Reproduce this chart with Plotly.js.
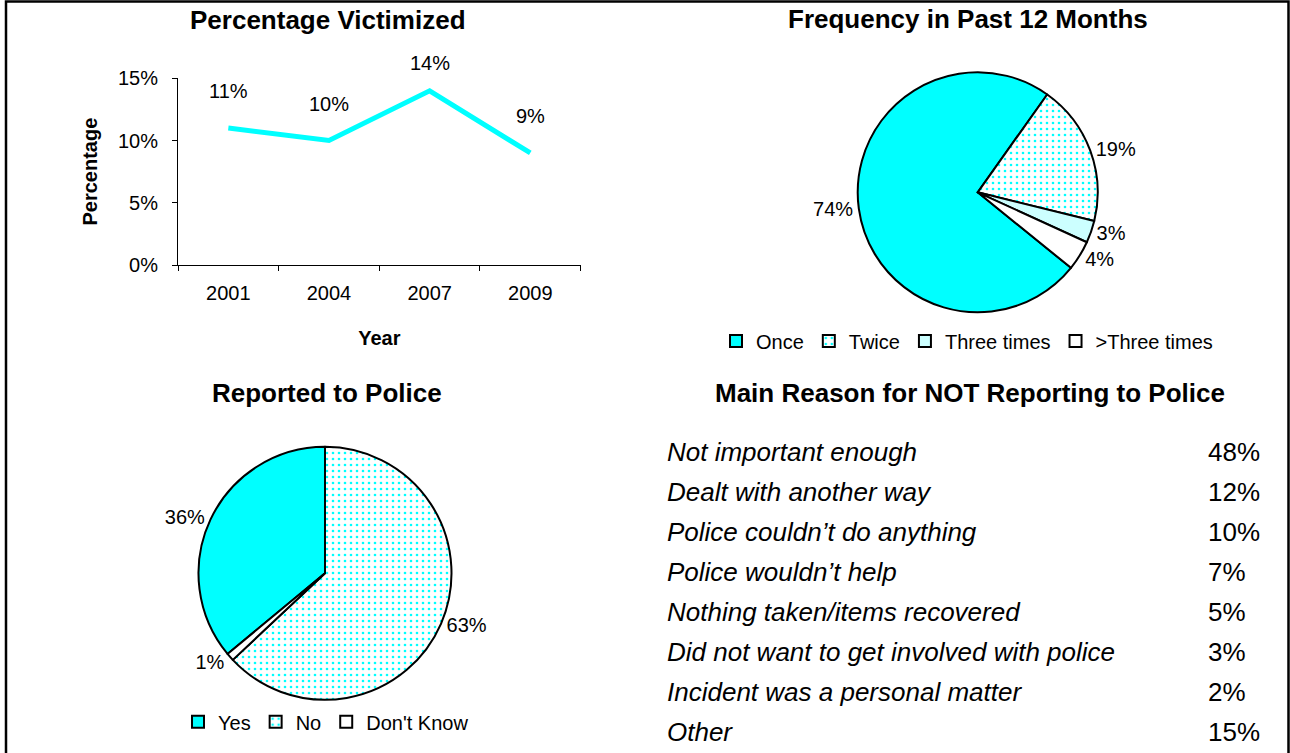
<!DOCTYPE html>
<html>
<head>
<meta charset="utf-8">
<script src="https://cdn.plot.ly/plotly-3.0.1.min.js"></script>
<style>
  html, body { margin: 0; padding: 0; background: #fff; }
  #chart { width: 1290px; height: 753px; }
</style>
</head>
<body>
<div id="chart"></div>
<script>
// ---- data ----
const years = ['2001', '2004', '2007', '2009'];
const victimizedPct = [11, 10, 14, 9];
const pctTicks = [0, 5, 10, 15];

const freqLabels = ['Once', 'Twice', 'Three times', '>Three times'];
const freqPct = [74, 19, 3, 4];

const reportedLabels = ['Yes', 'No', "Don't Know"];
const reportedPct = [36, 63, 1];

const reasonLabels = [
  'Not important enough',
  'Dealt with another way',
  'Police couldn\u2019t do anything',
  'Police wouldn\u2019t help',
  'Nothing taken/items recovered',
  'Did not want to get involved with police',
  'Incident was a personal matter',
  'Other'
];
const reasonPct = [48, 12, 10, 7, 5, 3, 2, 15];

const panelTitles = [
  'Percentage Victimized',
  'Frequency in Past 12 Months',
  'Reported to Police',
  'Main Reason for NOT Reporting to Police'
];

// ---- page geometry helpers (pixels -> paper fractions) ----
const W = 1290, H = 753;
const fx = px => px / W;
const fy = py => 1 - py / H;

const FONT = 'Arial, "Liberation Sans", sans-serif';
const CYAN = '#00FFFF';

// label offsets above the line points (px)
const labelLift = [37, 37, 28, 37];

const rowIdx = reasonLabels.map((_, i) => i);

const traces = [
  {
    type: 'scatter',
    mode: 'lines',
    x: years,
    y: victimizedPct,
    line: { color: CYAN, width: 5 },
    xaxis: 'x', yaxis: 'y',
    showlegend: false,
    hoverinfo: 'x+y'
  },
  {
    type: 'pie',
    labels: freqLabels,
    values: freqPct,
    sort: false,
    direction: 'clockwise',
    rotation: 129,
    domain: { x: [fx(977.7 - 120), fx(977.7 + 120)], y: [fy(312.3), fy(72.3)] },
    marker: {
      colors: [CYAN, '#FFFFFF', '#CCFFFF', '#FFFFFF'],
      line: { color: '#000', width: 2 },
      pattern: { shape: ['', '.', '', ''], fgcolor: CYAN, bgcolor: '#FFFFFF', size: 6, solidity: 0.15 }
    },
    texttemplate: '%{value}%',
    textposition: 'outside',
    textfont: { family: FONT, size: 20, color: '#000' },
    automargin: false,
    legend: 'legend',
    showlegend: true
  },
  {
    type: 'pie',
    labels: reportedLabels,
    values: reportedPct,
    sort: false,
    direction: 'clockwise',
    rotation: -129.6,
    domain: { x: [fx(325 - 126.5), fx(325 + 126.5)], y: [fy(699.8), fy(446.8)] },
    marker: {
      colors: [CYAN, '#FFFFFF', '#FFFFFF'],
      line: { color: '#000', width: 2 },
      pattern: { shape: ['', '.', ''], fgcolor: CYAN, bgcolor: '#FFFFFF', size: 6, solidity: 0.15 }
    },
    texttemplate: '%{value}%',
    textposition: 'outside',
    textfont: { family: FONT, size: 20, color: '#000' },
    automargin: false,
    legend: 'legend2',
    showlegend: true
  },
  // reasons table: one text column per field, rows on a hidden index axis
  {
    type: 'scatter',
    mode: 'text',
    x: reasonLabels.map(() => 0),
    y: rowIdx,
    text: reasonLabels,
    textposition: 'middle right',
    textfont: { family: FONT, size: 26, color: '#000', style: 'italic' },
    xaxis: 'x2', yaxis: 'y2',
    cliponaxis: false,
    showlegend: false,
    hoverinfo: 'skip'
  },
  {
    type: 'scatter',
    mode: 'text',
    x: reasonPct.map(() => 1),
    y: rowIdx,
    text: reasonPct.map(v => v + '%'),
    textposition: 'middle right',
    textfont: { family: FONT, size: 26, color: '#000' },
    xaxis: 'x2', yaxis: 'y2',
    cliponaxis: false,
    showlegend: false,
    hoverinfo: 'skip'
  }
];

// value labels on the line chart
const pointLabels = years.map((yr, i) => ({
  x: i, y: victimizedPct[i], xref: 'x', yref: 'y',
  text: victimizedPct[i] + '%',
  showarrow: false, yshift: labelLift[i],
  font: { family: FONT, size: 20, color: '#000' }
}));

// panel headings
const headingPos = [[328, 20], [968, 19], [327, 393], [969.6, 393.3]];
const headings = panelTitles.map((t, i) => ({
  xref: 'paper', yref: 'paper',
  x: fx(headingPos[i][0]), y: fy(headingPos[i][1]),
  xanchor: 'center', yanchor: 'middle',
  text: '<b>' + t + '</b>', showarrow: false,
  font: { family: FONT, size: 26, color: '#000' }
}));

const layout = {
  width: W, height: H,
  autosize: false,
  margin: { l: 0, r: 0, t: 0, b: 0, pad: 0 },
  paper_bgcolor: '#fff',
  plot_bgcolor: '#fff',
  font: { family: FONT, color: '#000' },
  xaxis: {
    domain: [fx(178), fx(580.6)],
    type: 'category',
    range: [-0.5, 3.5],
    showline: true, linecolor: '#000', linewidth: 1,
    ticks: 'outside', ticklen: 5, tickcolor: '#000', tickson: 'boundaries',
    showgrid: false, zeroline: false,
    tickfont: { family: FONT, size: 20, color: '#000' },
    ticklabelstandoff: 10,
    title: { text: '<b>Year</b>', font: { family: FONT, size: 20, color: '#000' }, standoff: 27 },
    fixedrange: true
  },
  yaxis: {
    domain: [fy(265), fy(78.3)],
    range: [0, 15],
    tickmode: 'array',
    tickvals: pctTicks,
    ticktext: pctTicks.map(v => v + '%'),
    showline: true, linecolor: '#000', linewidth: 1,
    ticks: 'outside', ticklen: 5, tickcolor: '#000',
    showgrid: false, zeroline: false,
    tickfont: { family: FONT, size: 20, color: '#000' },
    ticklabelstandoff: 10,
    title: { text: '<b>Percentage</b>', font: { family: FONT, size: 20, color: '#000' }, standoff: 14 },
    fixedrange: true
  },
  // hidden axes carrying the reasons table
  xaxis2: {
    domain: [fx(667), fx(1208)],
    range: [0, 1],
    visible: false,
    fixedrange: true
  },
  yaxis2: {
    domain: [fy(751.7), fy(431.7)],
    range: [reasonLabels.length - 0.57, -0.57],
    visible: false,
    fixedrange: true
  },
  legend: {
    orientation: 'h',
    x: fx(967), y: fy(341), xanchor: 'center', yanchor: 'middle',
    font: { family: FONT, size: 20, color: '#000' },
    itemwidth: 30,
    bgcolor: 'rgba(0,0,0,0)'
  },
  legend2: {
    orientation: 'h',
    x: fx(326), y: fy(721.7), xanchor: 'center', yanchor: 'middle',
    font: { family: FONT, size: 20, color: '#000' },
    itemwidth: 30,
    bgcolor: 'rgba(0,0,0,0)'
  },
  annotations: pointLabels.concat(headings),
  shapes: [
    {
      type: 'rect', xref: 'paper', yref: 'paper',
      x0: fx(6), x1: fx(1288.5), y0: -0.05, y1: fy(1.5),
      line: { color: '#000', width: 2.5 },
      fillcolor: 'rgba(0,0,0,0)', layer: 'above'
    }
  ]
};

Plotly.newPlot('chart', traces, layout, { displayModeBar: false, staticPlot: true });
</script>
</body>
</html>
